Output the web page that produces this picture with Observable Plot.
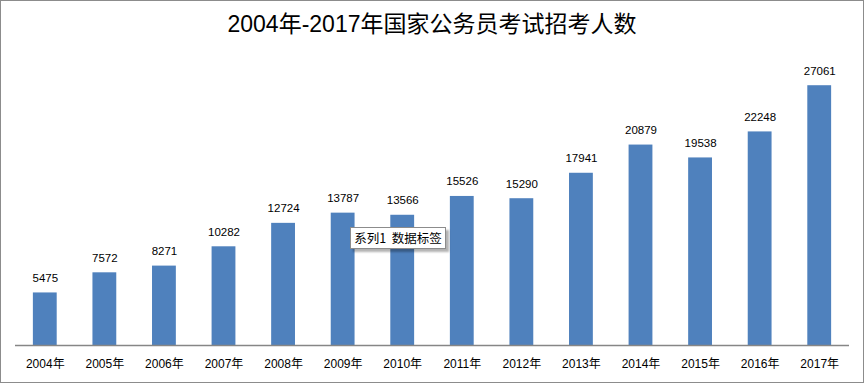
<!DOCTYPE html>
<html><head><meta charset="utf-8">
<script src="https://cdn.jsdelivr.net/npm/d3@7"></script>
<script src="https://cdn.jsdelivr.net/npm/@observablehq/plot@0.6"></script>
<style>
html,body{margin:0;padding:0;background:#fff;}
#wrap{position:relative;width:862px;height:381px;border:1px solid #8c8c8c;overflow:hidden;font-family:"Liberation Sans","Noto Sans CJK SC",sans-serif;}
#title{height:49px;text-align:center;line-height:46px;font-size:23px;color:#000;white-space:nowrap;}
#tip{position:absolute;left:349px;top:226px;width:94px;height:20px;border:1px solid #8c8c8c;background:#fff;box-shadow:3px 3px 2px rgba(0,0,0,0.3);font-size:12.5px;line-height:20px;text-align:center;font-family:"Noto Sans CJK SC",sans-serif;}
</style></head>
<body>
<div id="wrap">
<div id="title">2004年-2017年国家公务员考试招考人数</div>
<div id="chart"></div>
<div id="tip">系列1&nbsp;&nbsp;数据标签</div>
</div>
<script>
const years = ["2004年","2005年","2006年","2007年","2008年","2009年","2010年","2011年","2012年","2013年","2014年","2015年","2016年","2017年"];
const counts = [5475,7572,8271,10282,12724,13787,13566,15526,15290,17941,20879,19538,22248,27061];
const data = years.map((y,i)=>({year:y, value:counts[i]}));

const chart = Plot.plot({
  width: 862,
  height: 332,
  marginTop: 7,
  marginBottom: 37,
  marginLeft: 14,
  marginRight: 14,
  style: {fontFamily: '"Liberation Sans","Noto Sans CJK SC",sans-serif', background: "#fff"},
  x: {domain: years, paddingInner: 0.6, paddingOuter: 0.3, round: false, label: null},
  y: {domain: [0, 30000], axis: null},
  marks: [
    Plot.barY(data, {x: "year", y: "value", fill: "#4F81BD"}),
    Plot.ruleY([0], {stroke: "#868686", strokeWidth: 1.5}),
    Plot.text(data, {x: "year", y: "value", text: d => String(d.value), dy: -11, lineAnchor: "bottom", fontSize: 11.5, fill: "#000"}),
    Plot.axisX({tickSize: 0, tickPadding: 14, fontSize: 12, fill: "#000", label: null})
  ]
});
document.getElementById("chart").appendChild(chart);
</script>
</body></html>
